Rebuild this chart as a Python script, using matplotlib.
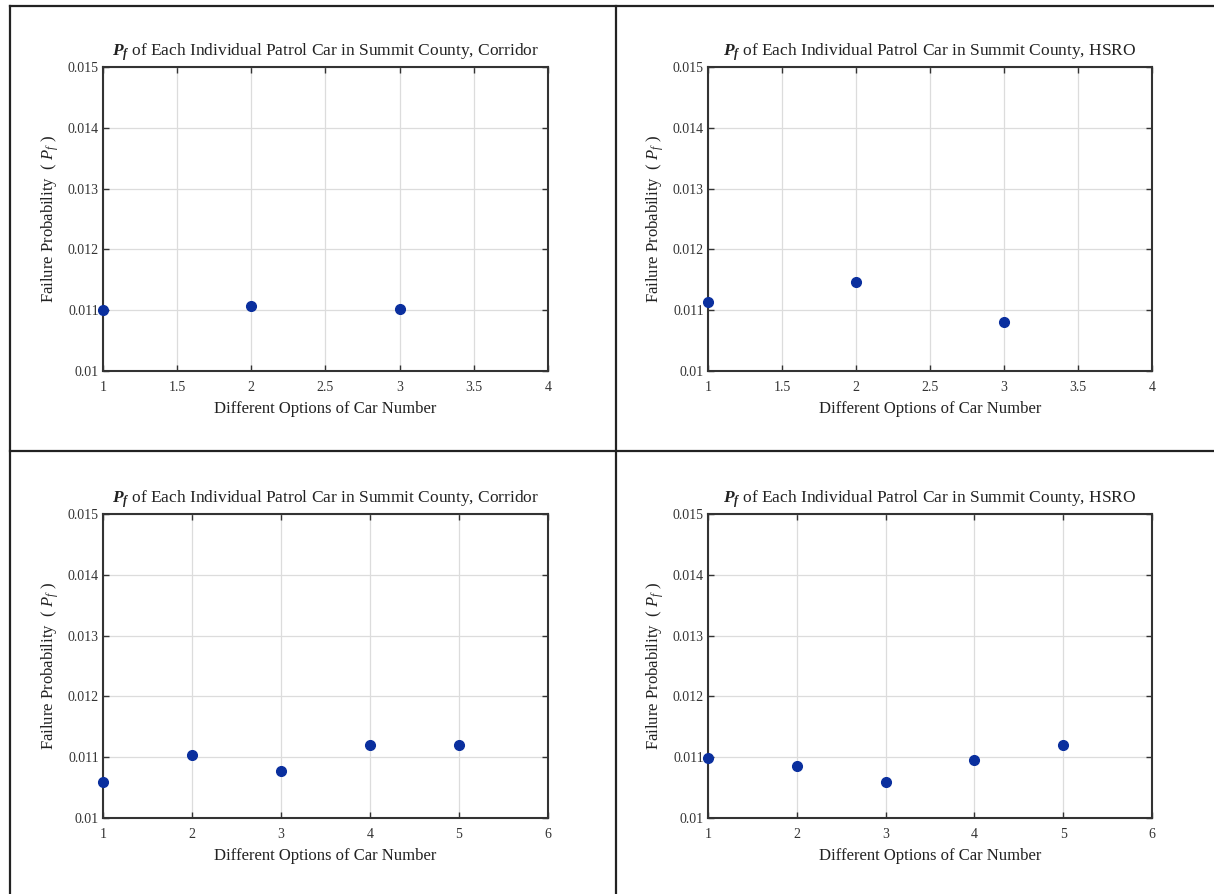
import numpy as np
import matplotlib
matplotlib.use('Agg')
import matplotlib.pyplot as plt
from matplotlib.lines import Line2D

plt.rcParams['font.family'] = ['Liberation Serif', 'DejaVu Serif']
plt.rcParams['mathtext.fontset'] = 'custom'
plt.rcParams['mathtext.rm'] = 'Liberation Serif'
plt.rcParams['mathtext.it'] = 'Liberation Serif:italic'
plt.rcParams['mathtext.bf'] = 'Liberation Serif:bold'
plt.rcParams['mathtext.bfit'] = 'Liberation Serif:italic:bold'

# car options
cars_3 = [1, 2, 3]
cars_5 = [1, 2, 3, 4, 5]

# failure probabilities
pf_corridor_3 = [0.01100, 0.01107, 0.01102]
pf_hsro_3 = [0.01113, 0.01147, 0.01081]
pf_corridor_5 = [0.01060, 0.01104, 0.01077, 0.01120, 0.01120]
pf_hsro_5 = [0.01099, 0.01086, 0.01060, 0.01095, 0.01120]

titles = ['Corridor', 'HSRO', 'Corridor', 'HSRO']
y_ticks = [0.010, 0.011, 0.012, 0.013, 0.014, 0.015]
y_ticklabels = ['0.01', '0.011', '0.012', '0.013', '0.014', '0.015']
x_ticks_3 = [1, 1.5, 2, 2.5, 3, 3.5, 4]
x_ticklabels_3 = ['1', '1.5', '2', '2.5', '3', '3.5', '4']
x_ticks_5 = [1, 2, 3, 4, 5, 6]
x_ticklabels_5 = ['1', '2', '3', '4', '5', '6']

W, H = 1214, 894
fig = plt.figure(figsize=(W / 100, H / 100), dpi=100)

# axes boxes in pixels: left, top, right, bottom
boxes = [(103, 67, 548, 371), (708, 67, 1152, 371),
         (103, 514, 548, 818), (708, 514, 1152, 818)]
xs = [cars_3, cars_3, cars_5, cars_5]
ys = [pf_corridor_3, pf_hsro_3, pf_corridor_5, pf_hsro_5]
xt = [x_ticks_3, x_ticks_3, x_ticks_5, x_ticks_5]
xtl = [x_ticklabels_3, x_ticklabels_3, x_ticklabels_5, x_ticklabels_5]

for i in range(4):
    l, t, r, b = boxes[i]
    ax = fig.add_axes([l / W, 1 - b / H, (r - l) / W, (b - t) / H])
    ax.plot(xs[i], ys[i], 'o', color='#0a2f9e', markersize=7, clip_on=False, zorder=5)
    ax.set_xlim(xt[i][0], xt[i][-1])
    ax.set_ylim(0.010, 0.015)
    ax.set_xticks(xt[i])
    ax.set_xticklabels(xtl[i])
    ax.set_yticks(y_ticks)
    ax.set_yticklabels(y_ticklabels)
    ax.grid(True, color='#dcdcdc', linewidth=0.9)
    ax.set_axisbelow(True)
    ax.tick_params(direction='in', length=4, width=1, top=True, right=True,
                   labelsize=10, colors='#333333')
    ax.tick_params(axis='x', pad=7)
    ax.tick_params(axis='y', pad=3)
    for s in ax.spines.values():
        s.set_linewidth(1.5)
        s.set_color('#333333')
    ax.set_title(r'$\mathbfit{P_f}$ of Each Individual Patrol Car in Summit County, ' + titles[i],
                 fontsize=12.5, pad=8, color='#222222')
    ax.set_xlabel('Different Options of Car Number', fontsize=12, labelpad=5, color='#222222')
    ax.set_ylabel(r'Failure Probability  ( $\it{P_f}$ )', fontsize=12, labelpad=5, color='#222222')

# table frame around the four panels
frame = [((10, 10), (6, H)), ((10, W), (6, 6)), ((616, 616), (6, H)), ((10, W), (451, 451))]
for (x0, x1), (y0, y1) in frame:
    fig.add_artist(Line2D([x0 / W, x1 / W], [1 - y0 / H, 1 - y1 / H],
                          transform=fig.transFigure, color='#222222', linewidth=1.6))

plt.savefig('out.png', dpi=100)
